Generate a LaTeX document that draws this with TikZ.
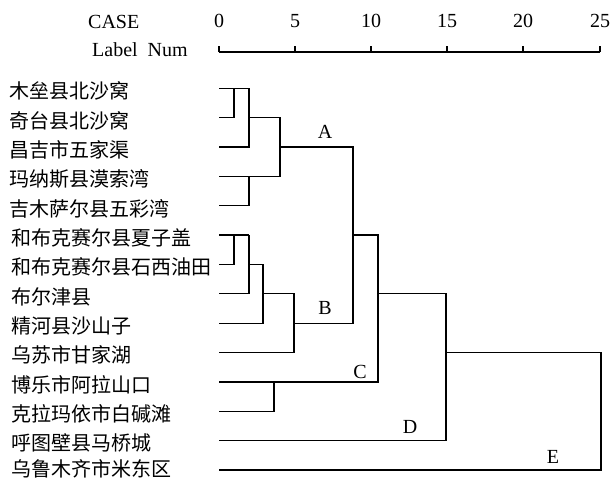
\documentclass[tikz,border=0pt]{standalone}
\usepackage{fontspec}
\setmainfont{Liberation Serif}
\newfontfamily\cjk{Noto Sans CJK SC}
\begin{document}
\begin{tikzpicture}[x=1pt,y=-1pt,
  seg/.style={line width=1.3pt},
  leaf/.style={anchor=west,inner sep=0pt,font=\cjk\fontsize{20}{20}\selectfont},
  num/.style={inner sep=0pt,font=\fontsize{20}{20}\selectfont},
  hdr/.style={anchor=west,inner sep=0pt,font=\fontsize{20}{20}\selectfont},
  clab/.style={inner sep=0pt,font=\fontsize{20}{20}\selectfont}]
\useasboundingbox (0,0) rectangle (611,480);
% axis
\coordinate (T0) at (219,52);
\coordinate (T5) at (295,52);
\coordinate (T10) at (371,52);
\coordinate (T15) at (447,52);
\coordinate (T20) at (523,52);
\coordinate (T25) at (600,52);
\draw[line width=1.1pt] (T0) -- (T25);
\foreach \t in {T0,T5,T10,T15,T20,T25}{\draw[line width=1.1pt] (\t) -- ++(0,-6);}
\node[num] (n0) at (219,21) {0};
\node[num] (n5) at (295,21) {5};
\node[num] (n10) at (371,21) {10};
\node[num] (n15) at (447,21) {15};
\node[num] (n20) at (523,21) {20};
\node[num] (n25) at (600,21) {25};
\node[hdr] (case) at (88,22) {CASE};
\node[hdr] (lnum) at (92,50) {Label~~Num};
% column x positions
\coordinate (X1) at (234,0);
\coordinate (X2) at (249,0);
\coordinate (X3) at (263,0);
\coordinate (X4) at (274,0);
\coordinate (X5) at (280,0);
\coordinate (X6) at (294,0);
\coordinate (X7) at (353,0);
\coordinate (X8) at (378,0);
\coordinate (X9) at (446,0);
\coordinate (X10) at (601,0);
% leaf rows
\foreach \i/\y in {1/88.3,2/117.7,3/147.0,4/176.4,5/205.7,6/235.1,7/264.5,8/293.8,9/323.2,10/352.5,11/381.9,12/411.3,13/440.6,14/470.0}{
  \coordinate (L\i) at (219,\y);
}
\node[leaf] (c1) at (9,91) {木垒县北沙窝};
\node[leaf] (c2) at (9,120.5) {奇台县北沙窝};
\node[leaf] (c3) at (9,150) {昌吉市五家渠};
\node[leaf] (c4) at (9,179) {玛纳斯县漠索湾};
\node[leaf] (c5) at (9,208.5) {吉木萨尔县五彩湾};
\node[leaf] (c6) at (11,237.5) {和布克赛尔县夏子盖};
\node[leaf] (c7) at (11,267) {和布克赛尔县石西油田};
\node[leaf] (c8) at (11,296.5) {布尔津县};
\node[leaf] (c9) at (11,326) {精河县沙山子};
\node[leaf] (c10) at (11,355) {乌苏市甘家湖};
\node[leaf] (c11) at (11,384.5) {博乐市阿拉山口};
\node[leaf] (c12) at (11,414) {克拉玛依市白碱滩};
\node[leaf] (c13) at (11,443) {呼图壁县马桥城};
\node[leaf] (c14) at (11,469) {乌鲁木齐市米东区};
% dendrogram
\draw[seg] (L1) -- (X2|-L1);
\draw[seg] (X1|-L1) |- (L2);
\draw[seg] (X2|-L1) |- (L3);
\draw[seg] (X2|-L2) -| (X5|-L4) -- (L4);
\draw[seg] (X2|-L4) |- (L5);
\draw[seg] (X5|-L3) -| (X7|-L9) -- (X6|-L9);
\draw[seg] (L6) -- (X2|-L6);
\draw[seg] (X1|-L6) |- (L7);
\draw[seg] (X2|-L6) |- (L8);
\draw[seg] (X2|-L7) -| (X3|-L9) -- (L9);
\draw[seg] (X3|-L8) -| (X6|-L10) -- (L10);
\draw[seg] (X7|-L6) -| (X8|-L11) -- (L11);
\draw[seg] (X4|-L11) |- (L12);
\draw[seg] (X8|-L8) -| (X9|-L13) -- (L13);
\draw[seg] (X9|-L10) -| (X10|-L14) -- (L14);
% cluster labels
\node[clab] (A) at (325,132) {A};
\node[clab] (B) at (325,308) {B};
\node[clab] (C) at (360,372) {C};
\node[clab] (D) at (410,427) {D};
\node[clab] (E) at (553,457) {E};
\end{tikzpicture}
\end{document}
